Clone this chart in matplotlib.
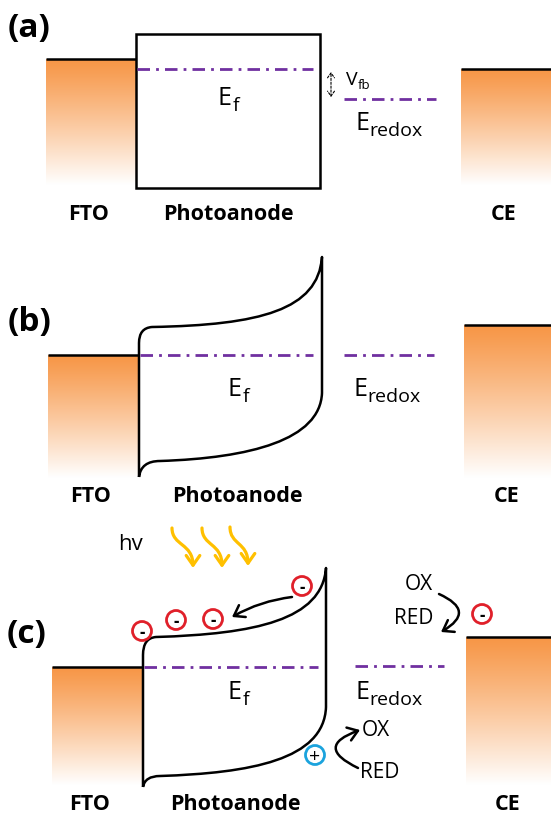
import matplotlib
matplotlib.use("Agg")
import matplotlib.pyplot as plt
import numpy as np
from matplotlib.path import Path
from matplotlib.patches import PathPatch, Circle, FancyArrowPatch

plt.rcParams['font.family'] = ['Open Sans', 'DejaVu Sans']

# ---- diagram data (pixel units, y grows downward) ----
panel_tags = ['(a)', '(b)', '(c)']
tag_xy = [(29, 28), (30, 323), (27, 635)]

layer_names = ['FTO', 'Photoanode', 'CE']
label_y = [214, 496, 804]
label_x = [(89, 228, 504), (91, 237, 507), (90, 235, 508)]

fto_x = [(46, 136), (48, 139), (52, 143)]
fto_top = [59, 355, 667]
ce_x = [(461, 551), (464, 551), (466, 551)]
ce_top = [69, 325, 637]
block_bottom = [185, 478, 785]

fermi_y = [69, 355, 667]
fermi_x = [(137, 313), (140, 313), (144, 318)]
redox_y = [99, 355, 666]
redox_x = [(344, 436), (344, 434), (355, 444)]
ef_text = [(218, 105), (228, 396), (228, 699)]
eredox_text = [(355, 130), (353, 396), (355, 699)]

# flat-band photoanode (a)
box_x = (136, 320)
box_y = (34, 188)

# bent bands (b), (c): left edge, CB corner, CB bending up, right edge, VB bending, VB corner
band_b = [(139, 477), (139, 343), (139, 328), (152, 327), (260, 325), (318, 310), (322, 257),
          (322, 393), (320, 440), (250, 458), (160, 461), (141, 461), (139, 477)]
band_c = [(143, 787), (143, 655), (143, 638), (156, 637), (255, 634), (322, 620), (326, 568),
          (326, 707), (324, 760), (250, 773), (160, 776), (145, 776), (143, 787)]
band_codes = [Path.MOVETO, Path.LINETO, Path.CURVE3, Path.CURVE3, Path.CURVE4, Path.CURVE4,
              Path.CURVE4, Path.LINETO, Path.CURVE4, Path.CURVE4, Path.CURVE4, Path.CURVE3,
              Path.CURVE3]

electrons = [(142, 631), (176, 620), (213, 619), (302, 586), (482, 614)]
holes = [(315, 755)]

photon_arrows = [[(172, 528), (172, 546), (193, 543), (193, 568)],
                 [(202, 528), (202, 546), (222, 543), (222, 568)],
                 [(230, 527), (230, 545), (248, 542), (248, 566)]]

orange = np.array([247, 150, 70]) / 255.0
purple = '#7030A0'
red = '#E0202A'
blue = '#1BA3DD'
gold = '#FFC000'

fig = plt.figure(figsize=(5.51, 8.18), dpi=100)
ax = fig.add_axes([0, 0, 1, 1])


def grad_block(x0, x1, ytop, ybot):
    t = np.linspace(0, 1, 200)[:, None]
    col = orange[None, :] + (1 - orange[None, :]) * t ** 1.1
    img = np.repeat(col[:, None, :], 2, axis=1)
    ax.imshow(img, extent=(x0, x1, ybot, ytop), aspect='auto', origin='upper',
              interpolation='bilinear', zorder=1)
    ax.plot([x0, x1], [ytop, ytop], color='black', lw=1.8, solid_capstyle='butt', zorder=3)


def sub_text(x, y, main, sub, size, subsize, drop):
    # subscript baseline sits `drop` px below the main baseline
    ax.text(x, y, main, fontsize=size, ha='left', va='baseline', zorder=5)
    t = ax.text(x, y, main, fontsize=size, ha='left', va='baseline', alpha=0)
    fig.canvas.draw()
    bb = t.get_window_extent()
    x_end = ax.transData.inverted().transform((bb.x1, bb.y0))[0]
    ax.text(x_end + 0.5, y + drop, sub, fontsize=subsize, ha='left', va='baseline', zorder=5)


dashdot = (0, (4.5, 2.2, 1, 2.2))

for i in range(3):
    grad_block(fto_x[i][0], fto_x[i][1], fto_top[i], block_bottom[i])
    grad_block(ce_x[i][0], ce_x[i][1], ce_top[i], block_bottom[i])
    ax.plot(fermi_x[i], [fermi_y[i]] * 2, color=purple, lw=2, ls=dashdot, zorder=4)
    ax.plot(redox_x[i], [redox_y[i]] * 2, color=purple, lw=2, ls=dashdot, zorder=4)
    ax.text(tag_xy[i][0], tag_xy[i][1], panel_tags[i], fontsize=24, fontweight='bold',
            ha='center', va='center')
    for name, lx in zip(layer_names, label_x[i]):
        ax.text(lx, label_y[i], name, fontsize=15.5, fontweight='bold', ha='center', va='center')

ax.set_xlim(0, 551)
ax.set_ylim(818, 0)
ax.axis('off')

for i in range(3):
    sub_text(ef_text[i][0], ef_text[i][1], 'E', 'f', 18, 14, 6)
    sub_text(eredox_text[i][0], eredox_text[i][1], 'E', 'redox', 18, 14, 6)

# (a) flat band box
ax.add_patch(plt.Rectangle((box_x[0], box_y[0]), box_x[1] - box_x[0], box_y[1] - box_y[0],
                           fill=True, fc='white', ec='black', lw=1.8, zorder=2))
ax.annotate('', xy=(331, 72), xytext=(331, 97),
            arrowprops=dict(arrowstyle='<->,head_length=0.35,head_width=0.25', lw=0.8, ls=(0, (2, 1.5)),
                            color='black', shrinkA=0, shrinkB=0))
sub_text(346, 85, 'V', 'fb', 14, 9.5, 4)

# (b), (c) bent bands
for pts in (band_b, band_c):
    ax.add_patch(PathPatch(Path(pts, band_codes), fc='white', ec='black', lw=1.8,
                           joinstyle='round', zorder=2))

# light
ax.text(131, 545, 'hv', fontsize=16, ha='center', va='center')
for pts in photon_arrows:
    ax.add_patch(FancyArrowPatch(path=Path(pts, [Path.MOVETO, Path.CURVE4, Path.CURVE4, Path.CURVE4]),
                                 arrowstyle='->,head_length=0.5,head_width=0.35', mutation_scale=14,
                                 color=gold, lw=2.3, zorder=5))

# carriers
for (x, y) in electrons:
    ax.add_patch(Circle((x, y), 9.5, fc='white', ec=red, lw=2, zorder=6))
    ax.text(x, y, '-', fontsize=12, fontweight='bold', ha='center', va='center_baseline', zorder=7)
for (x, y) in holes:
    ax.add_patch(Circle((x, y), 9.5, fc='white', ec=blue, lw=2, zorder=6))
    ax.text(x, y, '+', fontsize=14, ha='center', va='center_baseline', zorder=7)

arrow_kw = dict(arrowstyle='->,head_length=0.5,head_width=0.35', mutation_scale=14,
                color='black', lw=1.8, shrinkA=0, shrinkB=0, zorder=5)
ax.add_patch(FancyArrowPatch((292, 597), (232, 617), connectionstyle='arc3,rad=0.1', **arrow_kw))
ax.add_patch(FancyArrowPatch((439, 594), (441, 632), connectionstyle='arc3,rad=-0.97', **arrow_kw))
ax.add_patch(FancyArrowPatch((358, 768), (360, 730), connectionstyle='arc3,rad=-1.2', **arrow_kw))

ax.text(419, 585, 'OX', fontsize=15, ha='center', va='center')
ax.text(414, 618, 'RED', fontsize=15, ha='center', va='center')
ax.text(376, 730, 'OX', fontsize=15, ha='center', va='center')
ax.text(380, 773, 'RED', fontsize=15, ha='center', va='center')

fig.savefig('out.png', dpi=100)
